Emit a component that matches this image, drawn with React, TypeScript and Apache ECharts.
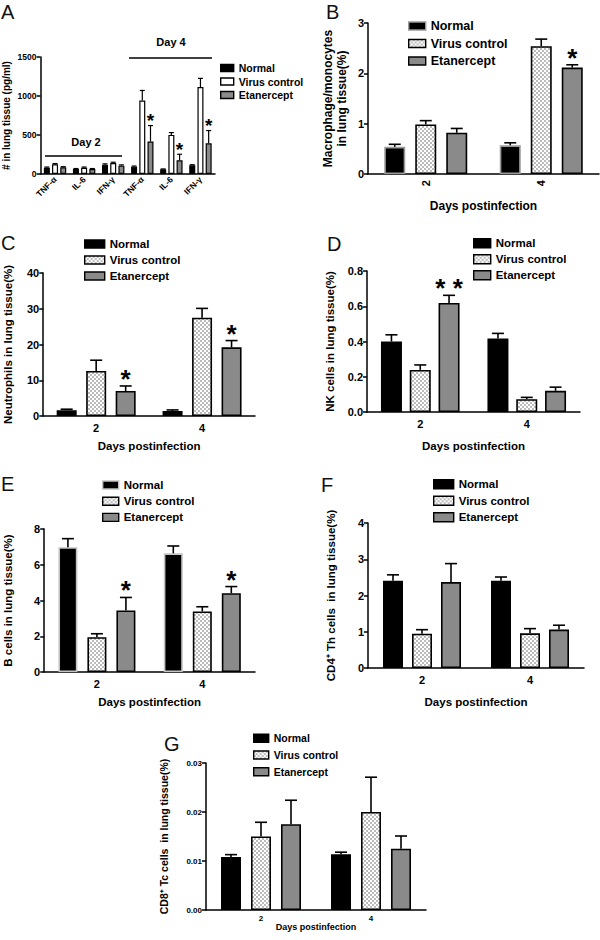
import React, { useEffect, useRef } from 'react';
import * as echarts from 'echarts';

const FONT = '"Liberation Sans", Arial, Helvetica, sans-serif';

const GROUPS = ['Normal', 'Virus control', 'Etanercept'];
const DAYS = ['2', '4'];
const CYTOKINES = ['TNF-α', 'IL-6', 'IFN-γ', 'TNF-α', 'IL-6', 'IFN-γ'];
const DAYS_TITLE = 'Days postinfection';

// Panel A: cytokines (pg/ml)
const aNormal = [81, 64, 120, 94, 60, 111];
const aNormalErr = [8, 6, 10, 8, 5, 8];
const aVirus = [124, 81, 141, 943, 501, 1114];
const aVirusErr = [10, 8, 10, 128, 30, 112];
const aEtan = [86, 64, 107, 416, 176, 394];
const aEtanErr = [8, 6, 10, 205, 77, 163];
const aEtanStars = [0, 0, 0, 1, 1, 1];

// Panel B: macrophage/monocytes (%)
const bNormal = [0.54, 0.57];
const bNormalErr = [0.05, 0.05];
const bVirus = [0.985, 2.54];
const bVirusErr = [0.075, 0.14];
const bEtan = [0.82, 2.115];
const bEtanErr = [0.085, 0.055];
const bEtanStars = [0, 1];

// Panel C: neutrophils (%)
const cNormal = [1.6, 1.4];
const cNormalErr = [0.3, 0.3];
const cVirus = [12.6, 27.5];
const cVirusErr = [3.0, 2.6];
const cEtan = [7.0, 19.2];
const cEtanErr = [1.4, 1.9];
const cEtanStars = [1, 1];

// Panel D: NK cells (%)
const dNormal = [0.4, 0.417];
const dNormalErr = [0.038, 0.029];
const dVirus = [0.239, 0.073];
const dVirusErr = [0.028, 0.01];
const dEtan = [0.619, 0.12];
const dEtanErr = [0.043, 0.021];
const dEtanStars = [2, 0];

// Panel E: B cells (%)
const eNormal = [6.98, 6.64];
const eNormalErr = [0.48, 0.41];
const eVirus = [1.95, 3.39];
const eVirusErr = [0.19, 0.26];
const eEtan = [3.44, 4.41];
const eEtanErr = [0.73, 0.37];
const eEtanStars = [1, 1];

// Panel F: CD4+ Th cells (%)
const fNormal = [2.41, 2.41];
const fNormalErr = [0.16, 0.1];
const fVirus = [0.947, 0.956];
const fVirusErr = [0.11, 0.13];
const fEtan = [2.37, 1.06];
const fEtanErr = [0.51, 0.12];

// Panel G: CD8+ Tc cells (%)
const gNormal = [0.0108, 0.0114];
const gNormalErr = [0.0005, 0.0004];
const gVirus = [0.015, 0.02];
const gVirusErr = [0.0029, 0.0071];
const gEtan = [0.0175, 0.0125];
const gEtanErr = [0.0049, 0.0026];

type Panel = {
  letter: string;
  letterPos: [number, number];
  cats: string[];
  values: number[][];
  errs: number[][];
  stars: (number[] | null)[];
  grid: { left: number; top: number; width: number; height: number };
  yMax: number;
  yInterval: number;
  yDecimals: number;
  yName: string;
  yNameGap: number;
  yNameSize: number;
  yNameShift: number;
  xName: string;
  xNameGap: number;
  xNameSize: number;
  xRotate: number;
  xMargin: number;
  tickFont: number;
  barW: number;
  pitch: number;
  cap: number;
  lw: number;
  starFont: number;
  starGap: number;
  legend: { left: number; center: number; pitch: number; w: number; h: number; font: number };
  normalBorder: string;
  openVirus: boolean;
};

const panels: Panel[] = [
  {
    letter: 'A', letterPos: [1, 2], cats: CYTOKINES,
    values: [aNormal, aVirus, aEtan], errs: [aNormalErr, aVirusErr, aEtanErr], stars: [null, null, aEtanStars],
    grid: { left: 39, top: 57, width: 176, height: 117 },
    yMax: 1500, yInterval: 500, yDecimals: 0,
    yName: '# in lung tissue (pg/ml)', yNameGap: 28, yNameSize: 10, yNameShift: 0,
    xName: '', xNameGap: 0, xNameSize: 10, xRotate: 45, xMargin: 4, tickFont: 8.5,
    barW: 6, pitch: 8.2, cap: 5, lw: 1.2, starFont: 19, starGap: 5,
    legend: { left: 220, center: 68, pitch: 13.5, w: 13, h: 7, font: 10.5 },
    normalBorder: '#000', openVirus: true,
  },
  {
    letter: 'B', letterPos: [326, 2], cats: DAYS,
    values: [bNormal, bVirus, bEtan], errs: [bNormalErr, bVirusErr, bEtanErr], stars: [null, null, bEtanStars],
    grid: { left: 368, top: 23, width: 231, height: 151 },
    yMax: 3, yInterval: 1, yDecimals: 0,
    yName: 'Macrophage/monocytes\nin lung tissue(%)', yNameGap: 19, yNameSize: 12, yNameShift: 0,
    xName: DAYS_TITLE, xNameGap: 26, xNameSize: 12, xRotate: 90, xMargin: 6, tickFont: 11,
    barW: 21, pitch: 31, cap: 12, lw: 1.6, starFont: 26, starGap: 7,
    legend: { left: 408, center: 26, pitch: 17.5, w: 17, h: 8, font: 12.5 },
    normalBorder: '#9a9a9a', openVirus: false,
  },
  {
    letter: 'C', letterPos: [1, 233], cats: DAYS,
    values: [cNormal, cVirus, cEtan], errs: [cNormalErr, cVirusErr, cEtanErr], stars: [null, null, cEtanStars],
    grid: { left: 40, top: 273, width: 215, height: 143 },
    yMax: 40, yInterval: 10, yDecimals: 0,
    yName: 'Neutrophils in lung tissue(%)', yNameGap: 29, yNameSize: 11.5, yNameShift: 0,
    xName: DAYS_TITLE, xNameGap: 24, xNameSize: 11.5, xRotate: 0, xMargin: 6, tickFont: 11,
    barW: 20, pitch: 29.5, cap: 12, lw: 1.6, starFont: 26, starGap: 7,
    legend: { left: 84, center: 244, pitch: 16, w: 20, h: 8, font: 11.5 },
    normalBorder: '#000', openVirus: false,
  },
  {
    letter: 'D', letterPos: [327, 234], cats: DAYS,
    values: [dNormal, dVirus, dEtan], errs: [dNormalErr, dVirusErr, dEtanErr], stars: [null, null, dEtanStars],
    grid: { left: 367, top: 271, width: 213, height: 141 },
    yMax: 0.8, yInterval: 0.2, yDecimals: 1,
    yName: 'NK cells in lung tissue(%)', yNameGap: 30, yNameSize: 11.5, yNameShift: 0,
    xName: DAYS_TITLE, xNameGap: 28, xNameSize: 11.5, xRotate: 0, xMargin: 6, tickFont: 11,
    barW: 21, pitch: 28.8, cap: 12, lw: 1.6, starFont: 26, starGap: 7,
    legend: { left: 473, center: 243.3, pitch: 16, w: 17, h: 9, font: 11.5 },
    normalBorder: '#000', openVirus: false,
  },
  {
    letter: 'E', letterPos: [1, 474], cats: DAYS,
    values: [eNormal, eVirus, eEtan], errs: [eNormalErr, eVirusErr, eEtanErr], stars: [null, null, eEtanStars],
    grid: { left: 40, top: 529, width: 215, height: 143 },
    yMax: 8, yInterval: 2, yDecimals: 0,
    yName: 'B cells in lung tissue(%)', yNameGap: 30, yNameSize: 11.5, yNameShift: 0,
    xName: DAYS_TITLE, xNameGap: 24, xNameSize: 11.5, xRotate: 0, xMargin: 6, tickFont: 11,
    barW: 19, pitch: 29, cap: 12, lw: 1.6, starFont: 26, starGap: 7,
    legend: { left: 102, center: 485, pitch: 16.2, w: 16, h: 8, font: 11.5 },
    normalBorder: '#c4c4c4', openVirus: false,
  },
  {
    letter: 'F', letterPos: [321, 475], cats: DAYS,
    values: [fNormal, fVirus, fEtan], errs: [fNormalErr, fVirusErr, fEtanErr], stars: [null, null, null],
    grid: { left: 368, top: 523, width: 216, height: 145 },
    yMax: 4, yInterval: 1, yDecimals: 0,
    yName: 'CD4⁺ Th cells  in lung tissue(%)', yNameGap: 30, yNameSize: 11.5, yNameShift: 0,
    xName: DAYS_TITLE, xNameGap: 28, xNameSize: 11.5, xRotate: 0, xMargin: 6, tickFont: 11,
    barW: 20, pitch: 29, cap: 12, lw: 1.6, starFont: 26, starGap: 7,
    legend: { left: 433, center: 484.3, pitch: 16.5, w: 20, h: 9, font: 11.5 },
    normalBorder: '#000', openVirus: false,
  },
  {
    letter: 'G', letterPos: [164, 734], cats: DAYS,
    values: [gNormal, gVirus, gEtan], errs: [gNormalErr, gVirusErr, gEtanErr], stars: [null, null, null],
    grid: { left: 206, top: 763, width: 220, height: 147 },
    yMax: 0.03, yInterval: 0.01, yDecimals: 2,
    yName: 'CD8⁺ Tc cells  in lung tissue(%)', yNameGap: 36, yNameSize: 10.5, yNameShift: 0,
    xName: DAYS_TITLE, xNameGap: 11, xNameSize: 9, xRotate: 0, xMargin: 4, tickFont: 8,
    barW: 20, pitch: 30, cap: 12, lw: 1.6, starFont: 22, starGap: 6,
    legend: { left: 253, center: 738.3, pitch: 16.7, w: 15, h: 8, font: 10.5 },
    normalBorder: '#000', openVirus: false,
  },
];

function makeChecker() {
  const c = document.createElement('canvas');
  c.width = 4;
  c.height = 4;
  const ctx = c.getContext('2d');
  if (ctx) {
    ctx.fillStyle = '#ffffff';
    ctx.fillRect(0, 0, 4, 4);
    ctx.fillStyle = '#bcbcbc';
    ctx.fillRect(0, 0, 2, 2);
    ctx.fillRect(2, 2, 2, 2);
  }
  return c;
}

function buildOption(pattern: any) {
  const grid: any[] = [];
  const xAxis: any[] = [];
  const yAxis: any[] = [];
  const series: any[] = [];
  const legend: any[] = [];
  const graphic: any[] = [];

  panels.forEach((p, i) => {
    const fills = ['#000000', p.openVirus ? '#ffffff' : pattern, '#8a8a8a'];
    grid.push({ ...p.grid, containLabel: false });
    xAxis.push({
      type: 'category',
      gridIndex: i,
      data: p.cats,
      axisLine: { lineStyle: { color: '#000', width: 1.5 } },
      axisTick: { alignWithLabel: true, length: 4, lineStyle: { color: '#000', width: 1.5 } },
      axisLabel: {
        color: '#000', fontWeight: 'bold', fontSize: p.tickFont, fontFamily: FONT,
        rotate: p.xRotate, margin: p.xMargin, interval: 0,
      },
      name: p.xName,
      nameLocation: 'middle',
      nameGap: p.xNameGap,
      nameTextStyle: { color: '#000', fontWeight: 'bold', fontSize: p.xNameSize, fontFamily: FONT },
    });
    yAxis.push({
      type: 'value',
      gridIndex: i,
      min: 0,
      max: p.yMax,
      interval: p.yInterval,
      splitLine: { show: false },
      axisLine: { show: true, lineStyle: { color: '#000', width: 1.5 } },
      axisTick: { show: true, length: 4, lineStyle: { color: '#000', width: 1.5 } },
      axisLabel: {
        color: '#000', fontWeight: 'bold', fontSize: p.tickFont, fontFamily: FONT, margin: 4,
        formatter: (v: number) => v.toFixed(p.yDecimals),
      },
      name: p.yName,
      nameLocation: 'middle',
      nameRotate: 90,
      nameGap: p.yNameGap,
      nameTextStyle: {
        color: '#000', fontWeight: 'bold', fontSize: p.yNameSize, fontFamily: FONT,
        lineHeight: p.yNameSize * 1.15,
        padding: [0, 0, 0, p.yNameShift * 2],
      },
    });

    const gapPct = ((p.pitch - p.barW) / p.barW) * 100 + '%';
    GROUPS.forEach((g, gi) => {
      const border = gi === 0 ? p.normalBorder : '#000';
      series.push({
        type: 'bar',
        name: g,
        xAxisIndex: i,
        yAxisIndex: i,
        data: p.values[gi],
        barWidth: p.barW,
        barGap: gapPct,
        silent: true,
        itemStyle: { color: fills[gi], borderColor: border, borderWidth: p.lw },
      });
    });
    GROUPS.forEach((g, gi) => {
      const off = (gi - 1) * p.pitch;
      const st = p.stars[gi];
      series.push({
        type: 'custom',
        name: g + ' SEM',
        xAxisIndex: i,
        yAxisIndex: i,
        silent: true,
        z: 3,
        data: p.values[gi].map((v, k) => [k, v, p.errs[gi][k], st ? st[k] : 0]),
        renderItem: (_params: any, api: any) => {
          const k = api.value(0);
          const v = api.value(1);
          const e = api.value(2);
          const s = api.value(3);
          const p0 = api.coord([k, v]);
          const p1 = api.coord([k, v + e]);
          const x = p0[0] + off;
          const children: any[] = [
            { type: 'line', shape: { x1: x, y1: p0[1], x2: x, y2: p1[1] }, style: { stroke: '#000', lineWidth: p.lw } },
            { type: 'line', shape: { x1: x - p.cap / 2, y1: p1[1], x2: x + p.cap / 2, y2: p1[1] }, style: { stroke: '#000', lineWidth: p.lw } },
          ];
          if (s > 0) {
            children.push({
              type: 'text',
              x,
              y: p1[1] - p.starGap,
              style: {
                text: s === 2 ? '* *' : '*',
                fontSize: p.starFont,
                fontWeight: 'bold',
                fontFamily: FONT,
                fill: '#000',
                textAlign: 'center',
                textVerticalAlign: 'middle',
                align: 'center',
                verticalAlign: 'middle',
              },
            });
          }
          return { type: 'group', children };
        },
      });
    });

    const L = p.legend;
    legend.push({
      orient: 'vertical',
      left: L.left,
      top: L.center - L.pitch / 2,
      padding: 0,
      itemGap: 0,
      itemWidth: L.w,
      itemHeight: L.h,
      icon: 'rect',
      selectedMode: false,
      textStyle: { color: '#000', fontWeight: 'bold', fontSize: L.font, fontFamily: FONT, lineHeight: L.pitch },
      data: GROUPS.map((g, gi) => ({
        name: g,
        itemStyle: { color: fills[gi], borderColor: gi === 0 ? p.normalBorder : '#000', borderWidth: 1.4 },
      })),
    });

    graphic.push({
      type: 'text',
      left: p.letterPos[0],
      top: p.letterPos[1],
      style: { text: p.letter, fontSize: 20, fontFamily: FONT, fill: '#111' },
    });
  });

  // Day annotations in panel A
  graphic.push(
    { type: 'line', shape: { x1: 45, y1: 156, x2: 122, y2: 156 }, style: { stroke: '#000', lineWidth: 1.5 } },
    { type: 'line', shape: { x1: 129, y1: 58, x2: 212, y2: 58 }, style: { stroke: '#000', lineWidth: 1.5 } },
    {
      type: 'text', x: 86, y: 142,
      style: { text: 'Day 2', fontSize: 11, fontWeight: 'bold', fontFamily: FONT, fill: '#000', align: 'center', verticalAlign: 'middle' },
    },
    {
      type: 'text', x: 171, y: 42,
      style: { text: 'Day 4', fontSize: 11, fontWeight: 'bold', fontFamily: FONT, fill: '#000', align: 'center', verticalAlign: 'middle' },
    }
  );

  return {
    animation: false,
    backgroundColor: '#ffffff',
    textStyle: { fontFamily: FONT },
    grid,
    xAxis,
    yAxis,
    legend,
    series,
    graphic,
  };
}

export default function App() {
  const ref = useRef<HTMLDivElement>(null);
  useEffect(() => {
    if (!ref.current) return;
    const chart = echarts.init(ref.current, undefined, { renderer: 'svg' });
    const checker = makeChecker();
    const pattern = { image: checker, repeat: 'repeat', imageWidth: 4, imageHeight: 4 };
    chart.setOption(buildOption(pattern));
    return () => chart.dispose();
  }, []);
  return <div ref={ref} style={{ position: 'absolute', left: 0, top: 0, width: 600, height: 940, background: '#fff' }} />;
}
